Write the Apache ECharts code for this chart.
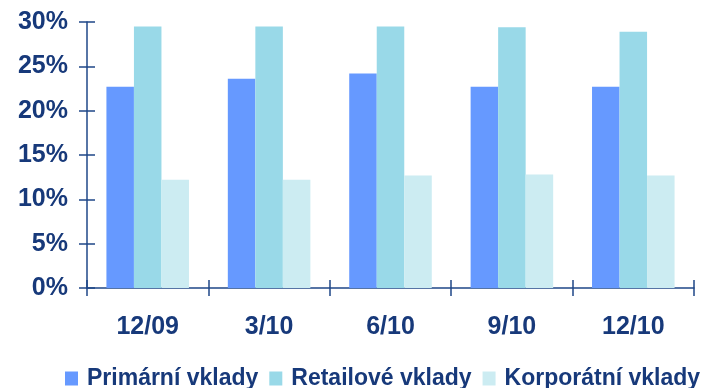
<!DOCTYPE html>
<html>
<head>
<meta charset="utf-8">
<script src="https://cdn.jsdelivr.net/npm/echarts@6/dist/echarts.min.js"></script>
<style>html,body{margin:0;padding:0;background:#fff}#c{width:702px;height:388px}</style>
</head>
<body>
<div id="c"></div>
<script>
var categories = ['12/09', '3/10', '6/10', '9/10', '12/10'];
var primarni = [22.7, 23.6, 24.2, 22.7, 22.7];
var retailove = [29.5, 29.5, 29.5, 29.4, 28.9];
var korporatni = [12.2, 12.2, 12.7, 12.8, 12.7];
var seriesNames = ['Primární vklady', 'Retailové vklady', 'Korporátní vklady'];
var yTicks = {min: 0, max: 30, interval: 5};

var navy = '#17397A';
var axisColor = '#1F4788';
var font = 'Liberation Sans, Arial, sans-serif';

var chart = echarts.init(document.getElementById('c'));
chart.setOption({
  animation: false,
  grid: {left: 87, right: 8, top: 22, bottom: 100, containLabel: false},
  legend: {
    left: 60, top: 362, width: 690,
    itemWidth: 13, itemHeight: 14, itemGap: 11,
    icon: 'rect',
    textStyle: {color: navy, fontFamily: font, fontWeight: 'bold', fontSize: 23, padding: [0, 0, 0, 4]},
    data: seriesNames
  },
  xAxis: [{
    type: 'category', data: categories, position: 'bottom',
    axisLine: {lineStyle: {color: axisColor, width: 1.5}},
    axisTick: {show: true, inside: false, length: 8, lineStyle: {color: axisColor, width: 1.5}},
    axisLabel: {color: navy, fontFamily: font, fontWeight: 'bold', fontSize: 25, margin: 27}
  }, {
    type: 'category', data: categories, position: 'bottom', offset: -8,
    axisLine: {show: false},
    axisTick: {show: true, inside: false, length: 8, lineStyle: {color: axisColor, width: 1.5}},
    axisLabel: {show: false}
  }],
  yAxis: [{
    type: 'value', min: yTicks.min, max: yTicks.max, interval: yTicks.interval,
    axisLine: {show: true, lineStyle: {color: axisColor, width: 1.5}},
    axisTick: {show: true, inside: false, length: 8, lineStyle: {color: axisColor, width: 1.5}},
    splitLine: {show: false},
    axisLabel: {color: navy, fontFamily: font, fontWeight: 'bold', fontSize: 25, margin: 19, formatter: '{value}%'}
  }, {
    type: 'value', min: yTicks.min, max: yTicks.max, interval: yTicks.interval, position: 'left', offset: -8,
    axisLine: {show: false},
    axisTick: {show: true, inside: false, length: 8, lineStyle: {color: axisColor, width: 1.5}},
    splitLine: {show: false},
    axisLabel: {show: false}
  }],
  series: [
    {name: seriesNames[0], type: 'bar', data: primarni, barGap: '0%', barCategoryGap: '32%', itemStyle: {color: '#6699FF'}},
    {name: seriesNames[1], type: 'bar', data: retailove, itemStyle: {color: '#99D9E8'}},
    {name: seriesNames[2], type: 'bar', data: korporatni, itemStyle: {color: '#CCECF2'}},
    {name: 'tickHelper', type: 'line', xAxisIndex: 1, yAxisIndex: 1, data: primarni,
     showSymbol: false, symbol: 'none', silent: true, lineStyle: {opacity: 0}, tooltip: {show: false}}
  ]
});
</script>
</body>
</html>
